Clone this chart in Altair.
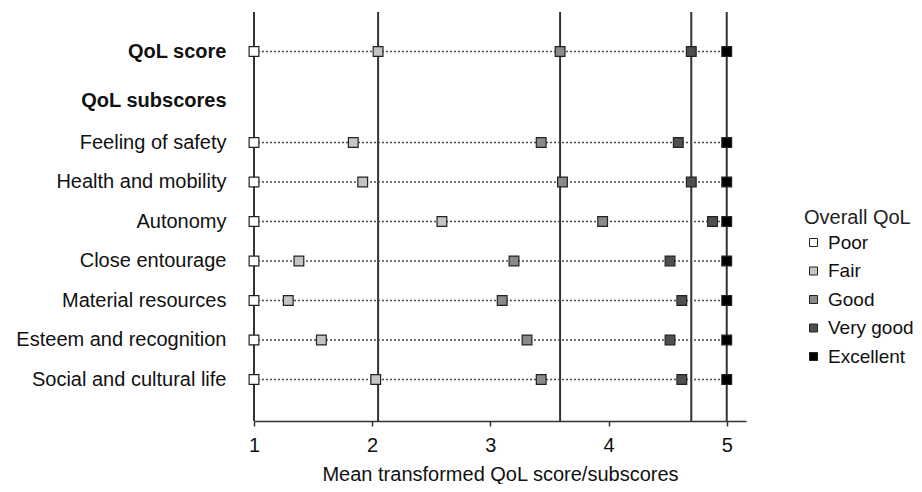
import altair as alt
import pandas as pd

# Rows (y axis) and their vertical positions
rows = ["QoL score", "QoL subscores", "Feeling of safety", "Health and mobility",
        "Autonomy", "Close entourage", "Material resources",
        "Esteem and recognition", "Social and cultural life"]
row_pos = [0, 1.25, 2.3, 3.3, 4.3, 5.3, 6.3, 7.3, 8.3]
bold_rows = ["QoL score", "QoL subscores"]

# Rows that carry points (header row excluded)
point_rows = ["QoL score", "Feeling of safety", "Health and mobility", "Autonomy",
              "Close entourage", "Material resources", "Esteem and recognition",
              "Social and cultural life"]

categories = ["Poor", "Fair", "Good", "Very good", "Excellent"]
poor = [1, 1, 1, 1, 1, 1, 1, 1]
fair = [2.05, 1.84, 1.92, 2.59, 1.38, 1.29, 1.57, 2.03]
good = [3.59, 3.43, 3.61, 3.95, 3.20, 3.10, 3.31, 3.43]
very_good = [4.70, 4.59, 4.70, 4.88, 4.52, 4.62, 4.52, 4.62]
excellent = [5, 5, 5, 5, 5, 5, 5, 5]

colors = ["#ffffff", "#c4c4c4", "#8a8a8a", "#4f4f4f", "#000000"]

pos_of = dict(zip(rows, row_pos))
records = []
for cat, vals in zip(categories, [poor, fair, good, very_good, excellent]):
    for r, v in zip(point_rows, vals):
        records.append({"row": r, "pos": pos_of[r], "category": cat, "value": v})
df = pd.DataFrame(records)
score_df = df[df["row"] == "QoL score"]

# label expression mapping positions to row names
label_expr = "''"
for r, p in reversed(list(zip(rows, row_pos))):
    label_expr = f"datum.value == {p} ? '{r}' : ({label_expr})"
bold_test = " || ".join(f"datum.value == {pos_of[r]}" for r in bold_rows)

FS = 20
x_scale = alt.Scale(domain=[1, 5.163], nice=False, zero=False)
y_scale = alt.Scale(domain=[-1.0, 9.35], reverse=True, nice=False, zero=False)

x_axis = alt.Axis(values=[1, 2, 3, 4, 5], format="d",
                  title="Mean transformed QoL score/subscores",
                  grid=False, domainColor="#333333", domainWidth=1.5,
                  tickColor="#333333", tickSize=5, tickWidth=1.5,
                  labelFontSize=FS, labelPadding=9, labelColor="#111111",
                  labelFlush=False,
                  titleFontSize=FS, titleFontWeight="normal", titleColor="#111111",
                  titlePadding=9)
y_axis = alt.Axis(values=row_pos, labelExpr=label_expr, title=None,
                  domain=False, ticks=False, grid=False,
                  labelPadding=28, labelFontSize=FS, labelColor="#111111",
                  labelFlush=False, labelOverlap=False, labelLimit=400,
                  labelFontWeight={"condition": {"test": bold_test, "value": "bold"},
                                   "value": "normal"})

vlines = alt.Chart(score_df).mark_rule(color="#333333", strokeWidth=2).encode(
    x=alt.X("value:Q", scale=x_scale, axis=x_axis),
)

dotted = alt.Chart(df).mark_rule(strokeDash=[2, 2], color="#4a4a4a", strokeWidth=1.5).encode(
    x=alt.X("min(value):Q", scale=x_scale, axis=x_axis),
    x2="max(value):Q",
    y=alt.Y("pos:Q", scale=y_scale, axis=y_axis),
)

points = alt.Chart(df).mark_square(size=95, stroke="#222222", strokeWidth=1.2, opacity=1).encode(
    x=alt.X("value:Q", scale=x_scale, axis=x_axis),
    y=alt.Y("pos:Q", scale=y_scale, axis=y_axis),
    fill=alt.Fill("category:N", sort=categories,
                  scale=alt.Scale(domain=categories, range=colors),
                  legend=alt.Legend(title="Overall QoL", orient="none",
                                    legendX=550, legendY=196,
                                    titleFontSize=FS, titleFontWeight="normal",
                                    titleColor="#222222", titlePadding=5,
                                    labelFontSize=19, labelColor="#111111",
                                    labelOffset=5, rowPadding=8.5,
                                    symbolType="square", symbolSize=64,
                                    symbolStrokeColor="#222222", symbolStrokeWidth=1,
                                    symbolOpacity=1, padding=0)),
)

chart = alt.layer(vlines, dotted, points).properties(
    width=492, height=409,
    autosize=alt.AutoSizeParams(type="none"),
    padding={"left": 246, "top": 4, "right": 168, "bottom": 63},
).configure(font="Liberation Sans").configure_view(stroke=None)

chart.save("out.html", embed_options={"renderer": "svg", "actions": False})
